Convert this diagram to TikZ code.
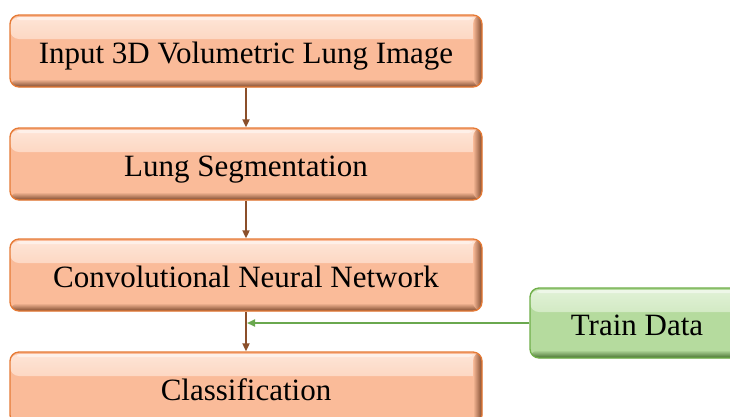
\documentclass[tikz,border=0pt]{standalone}
\usepackage{fontspec}
\setmainfont{Liberation Serif}
\usetikzlibrary{arrows.meta}
\definecolor{ofill}{HTML}{FABB99}
\definecolor{olight}{HTML}{FEE6D8}
\definecolor{oborder}{HTML}{E57A35}
\definecolor{orim}{HTML}{7E4A2E}
\definecolor{gfill}{HTML}{B5DB9E}
\definecolor{glight}{HTML}{E2F2D8}
\definecolor{gborder}{HTML}{6FAE48}
\definecolor{grim}{HTML}{46702F}
\definecolor{barrow}{HTML}{8B4F2A}
\definecolor{garrow}{HTML}{6AA84F}
\tikzset{
  bevel/.style n args={4}{
    rounded corners=9pt, fill=#1, draw=#3, line width=1.3pt,
    font=\fontsize{31}{34}\selectfont, text=black, inner sep=0pt,
    text height=24pt, text depth=0pt,
    path picture={
      \shade[top color=#2, bottom color=#1]
        ([yshift=-2pt]path picture bounding box.north west) rectangle ([yshift=-24pt]path picture bounding box.north east);
      \fill[#2!60!white, rounded corners=3pt]
        ([xshift=7pt,yshift=-2pt]path picture bounding box.north west) rectangle ([xshift=-10pt,yshift=-5pt]path picture bounding box.north east);
      \shade[top color=#1, bottom color=#4]
        ([yshift=8pt]path picture bounding box.south west) rectangle (path picture bounding box.south east);
      \shade[left color=#1, right color=#4]
        ([xshift=-9pt]path picture bounding box.north east) rectangle (path picture bounding box.south east);
    }
  },
  procbox/.style={bevel={ofill}{olight}{oborder}{orim}, minimum width=472pt, minimum height=72pt},
  databox/.style={bevel={gfill}{glight}{gborder}{grim}, minimum width=214pt, minimum height=70pt},
  flowarrow/.style={draw=barrow, line width=1.8pt, -{Triangle[length=8pt,width=7pt]}},
  trainarrow/.style={draw=garrow, line width=1.8pt, -{Triangle[length=8pt,width=7pt]}}
}
\begin{document}
\begin{tikzpicture}[x=1pt,y=-1pt]
\useasboundingbox (0,0) rectangle (730,416);
\clip (0,0) rectangle (730,416);
\node[procbox] (n1) at (246,51) {Input 3D Volumetric Lung Image};
\node[procbox] (n2) at (246,164) {Lung Segmentation};
\node[procbox] (n3) at (246,275) {Convolutional Neural Network};
\node[procbox] (n4) at (246,388) {Classification};
\node[databox] (td) at (637,323) {Train Data};
\coordinate (join) at (n3.south |- td.west);
\draw[flowarrow] (n1.south) -- (n2.north);
\draw[flowarrow] (n2.south) -- (n3.north);
\draw[flowarrow] (n3.south) -- (n4.north);
\draw[trainarrow] (td.west) -- ([xshift=1pt]join);
\end{tikzpicture}
\end{document}
